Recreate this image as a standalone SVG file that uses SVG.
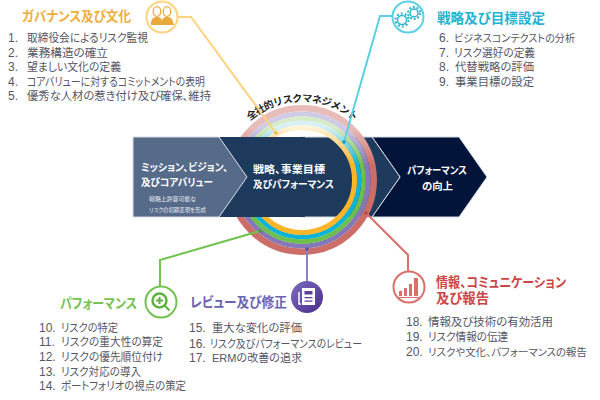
<svg xmlns="http://www.w3.org/2000/svg" width="600" height="400" viewBox="0 0 600 400">
<style>
text{font-family:"Liberation Sans","Noto Sans CJK JP",sans-serif;font-feature-settings:"palt"}
.i{font-size:11.5px;fill:#565666}
.n{font-size:12px;fill:#565666}
.t{font-size:13.5px;font-weight:700}
.w{font-size:10.5px;fill:#fff;font-weight:700}
.s{font-size:6px;fill:#e4e8f0}
.ln{fill:none;stroke-width:2;stroke-linejoin:miter}
.ring{fill:none}
.ic{fill:#fff;stroke-width:2}
</style>
<defs>
<linearGradient id="gr" gradientUnits="userSpaceOnUse" x1="0" y1="105" x2="0" y2="180"><stop offset=".3" stop-color="#e8bdb9"/><stop offset=".8" stop-color="#cd6d68"/></linearGradient>
<linearGradient id="gp" gradientUnits="userSpaceOnUse" x1="0" y1="105" x2="0" y2="180"><stop offset=".3" stop-color="#cfcbe6"/><stop offset=".8" stop-color="#8578b8"/></linearGradient>
<linearGradient id="gg" gradientUnits="userSpaceOnUse" x1="0" y1="105" x2="0" y2="180"><stop offset=".3" stop-color="#d6ebc8"/><stop offset=".8" stop-color="#6cc04a"/></linearGradient>
<linearGradient id="gc" gradientUnits="userSpaceOnUse" x1="0" y1="105" x2="0" y2="180"><stop offset=".3" stop-color="#d8f0f5"/><stop offset=".8" stop-color="#0bb3d6"/></linearGradient>
<linearGradient id="gy" gradientUnits="userSpaceOnUse" x1="0" y1="105" x2="0" y2="180"><stop offset=".3" stop-color="#fff3d8"/><stop offset=".8" stop-color="#fdb52a"/></linearGradient>
<linearGradient id="gd" x1="0" y1="0" x2="1" y2="1"><stop offset="0" stop-color="#7b6cc0"/><stop offset="1" stop-color="#4a2c8c"/></linearGradient>
<path id="arc" d="M243 127.700A80 80 0 0 1 361 127.700"/>
</defs>

<g id="band-third">
<polygon points="372,137 459,137 487,177 459,217 372,217 400,177" fill="#03143a" stroke="#d5dbe3" stroke-width="1"/>
</g>
<g id="band-second-right">
<polygon points="300,137 372,137 400,177 372,217 300,217" fill="#1e3a5c" stroke="#d5dbe3" stroke-width="1"/>
</g>
<g id="rings">
<circle class="ring" cx="302" cy="180" r="71.700" stroke="url(#gr)" stroke-width="6.500"/>
<circle class="ring" cx="302" cy="180" r="66" stroke="url(#gp)" stroke-width="5"/>
<circle class="ring" cx="302" cy="180" r="61.500" stroke="url(#gg)" stroke-width="4.500"/>
<circle class="ring" cx="302" cy="180" r="57" stroke="url(#gc)" stroke-width="4.500"/>
<circle class="ring" cx="302" cy="180" r="52.500" stroke="url(#gy)" stroke-width="5"/>
</g>
<g id="band-second">
<polygon points="219,137 305,137 305,217 219,217 247,177" fill="#1e3a5c"/>
<text class="w" x="253" y="173" textLength="72" lengthAdjust="spacingAndGlyphs">戦略、事業目標</text>
<text class="w" x="253" y="188" textLength="81" lengthAdjust="spacingAndGlyphs">及びパフォーマンス</text>
</g>
<g id="band-first">
<polygon points="133,137 219,137 247,177 219,217 133,217" fill="#566a8a" stroke="#d5dbe3" stroke-width="1"/>
<text class="w" x="141" y="171" textLength="87" lengthAdjust="spacingAndGlyphs">ミッション、ビジョン、</text>
<text class="w" x="141" y="186" textLength="72" lengthAdjust="spacingAndGlyphs">及びコアバリュー</text>
<text class="s" x="149" y="201" textLength="47" lengthAdjust="spacingAndGlyphs">戦略上許容可能な</text>
<text class="s" x="149" y="212" textLength="57" lengthAdjust="spacingAndGlyphs">リスクの初期表現を形成</text>
</g>
<g id="band-third-label">
<text class="w" x="407" y="174" textLength="60" lengthAdjust="spacingAndGlyphs">パフォーマンス</text>
<text class="w" x="422" y="190" textLength="31" lengthAdjust="spacingAndGlyphs">の向上</text>
</g>
<g id="arc-label">
<text font-size="10" font-weight="700" fill="#222" style="font-feature-settings:normal;letter-spacing:-.6px"><textPath href="#arc" startOffset="50%" text-anchor="middle">全社的リスクマネジメント</textPath></text>
</g>

<g id="connectors">
<polyline class="ln" stroke="#ffd27f" points="178,17 191,17 276,133"/><circle cx="276" cy="133" r="1.800" fill="#f5b942"/>
<polyline class="ln" stroke="#5bcfe4" points="392,16 380,16 344,142"/><circle cx="344" cy="142" r="1.800" fill="#1a9ab8"/>
<polyline class="ln" stroke="#72c24f" points="260,231 160,260 160,286"/><circle cx="260" cy="231" r="1.800" fill="#4c9a3a"/>
<polyline class="ln" stroke="#8a80c0" points="307,249 307,282"/><circle cx="307" cy="249" r="1.800" fill="#5d4fa0"/>
<polyline class="ln" stroke="#d9706a" points="366,213 408,255 408,271"/><circle cx="366" cy="213" r="1.800" fill="#b84c48"/>
</g>

<g id="governance">
<circle class="ic" cx="162" cy="17" r="15.500" stroke="#ffd27f"/>
<g fill="none" stroke="#e8a93a" stroke-width="1.300"><ellipse cx="157" cy="11.500" rx="3.800" ry="4.800"/><ellipse cx="167" cy="11.500" rx="3.800" ry="4.800"/></g>
<path d="M151 22c1-4 3-5 6-5s5 1 5 5v3h-11zM162 22c0-4 2-5 5-5s5 1 6 5l1 3h-12z" fill="#e8a93a"/>
<text class="t" x="22" y="21" fill="#f0ae3c" textLength="109" lengthAdjust="spacingAndGlyphs">ガバナンス及び文化</text>
<text class="n" x="8" y="42">1.</text><text class="i" x="27" y="42" textLength="121" lengthAdjust="spacingAndGlyphs">取締役会によるリスク監視</text>
<text class="n" x="8" y="56.500">2.</text><text class="i" x="27" y="56.500" textLength="81" lengthAdjust="spacingAndGlyphs">業務構造の確立</text>
<text class="n" x="8" y="71">3.</text><text class="i" x="27" y="71" textLength="94" lengthAdjust="spacingAndGlyphs">望ましい文化の定義</text>
<text class="n" x="8" y="85.500">4.</text><text class="i" x="27" y="85.500" textLength="178" lengthAdjust="spacingAndGlyphs">コアバリューに対するコミットメントの表明</text>
<text class="n" x="8" y="100">5.</text><text class="i" x="27" y="100" textLength="184" lengthAdjust="spacingAndGlyphs">優秀な人材の惹き付け及び確保、維持</text>
</g>

<g id="strategy">
<circle class="ic" cx="408" cy="17" r="15.500" stroke="#5bcfe4"/>
<g fill="none" stroke="#2bb5d0"><circle cx="402" cy="20" r="4.500" stroke-width="1.500"/><circle cx="402" cy="20" r="6.500" stroke-width="2" stroke-dasharray="2 2.080"/><circle cx="414" cy="13" r="4" stroke-width="1.500"/><circle cx="414" cy="13" r="6" stroke-width="2" stroke-dasharray="2 1.770"/></g>
<text class="t" x="437" y="23" fill="#22b2d2" textLength="108" lengthAdjust="spacingAndGlyphs">戦略及び目標設定</text>
<text class="n" x="439" y="42">6.</text><text class="i" x="454" y="42" style="font-size:10.500px" textLength="121" lengthAdjust="spacingAndGlyphs">ビジネスコンテクストの分析</text>
<text class="n" x="439" y="57">7.</text><text class="i" x="454" y="57" textLength="81" lengthAdjust="spacingAndGlyphs">リスク選好の定義</text>
<text class="n" x="439" y="71">8.</text><text class="i" x="455" y="71" textLength="79" lengthAdjust="spacingAndGlyphs">代替戦略の評価</text>
<text class="n" x="439" y="86">9.</text><text class="i" x="455" y="86" textLength="79" lengthAdjust="spacingAndGlyphs">事業目標の設定</text>
</g>

<g id="performance">
<circle class="ic" cx="161" cy="302" r="15.500" stroke="#72c24f"/>
<circle cx="159.500" cy="300.500" r="7" fill="none" stroke="#5db33d" stroke-width="2.500"/>
<path d="M164.500 305.500l5 5M159.500 297v7M156 300.500h7" stroke="#5db33d" stroke-width="2" fill="none"/>
<text class="t" x="60" y="308" fill="#74c24f" textLength="77" lengthAdjust="spacingAndGlyphs">パフォーマンス</text>
<text class="n" x="39" y="332">10.</text><text class="i" x="61" y="332" textLength="57" lengthAdjust="spacingAndGlyphs">リスクの特定</text>
<text class="n" x="39" y="346">11.</text><text class="i" x="61" y="346" textLength="102" lengthAdjust="spacingAndGlyphs">リスクの重大性の算定</text>
<text class="n" x="39" y="361">12.</text><text class="i" x="61" y="361" textLength="102" lengthAdjust="spacingAndGlyphs">リスクの優先順位付け</text>
<text class="n" x="39" y="376">13.</text><text class="i" x="61" y="376" textLength="80" lengthAdjust="spacingAndGlyphs">リスク対応の導入</text>
<text class="n" x="39" y="390">14.</text><text class="i" x="61" y="390" textLength="125" lengthAdjust="spacingAndGlyphs">ポートフォリオの視点の策定</text>
</g>

<g id="review">
<circle cx="307" cy="297" r="16" fill="url(#gd)"/>
<path d="M302 288h13v17h-13z" fill="#fff"/><path d="M304.500 291h8v3.500h-8zM304.500 297h8v1.200h-8zM304.500 300.500h8v1.200h-8z" fill="#5b3d9a"/><path d="M299 292v12h2" fill="none" stroke="#fff" stroke-width="1.500"/>
<text class="t" x="190" y="307" fill="#6a62b0" textLength="97" lengthAdjust="spacingAndGlyphs">レビュー及び修正</text>
<text class="n" x="189" y="332">15.</text><text class="i" x="212" y="332" textLength="90" lengthAdjust="spacingAndGlyphs">重大な変化の評価</text>
<text class="n" x="189" y="348">16.</text><text class="i" x="210" y="348" textLength="152" lengthAdjust="spacingAndGlyphs">リスク及びパフォーマンスのレビュー</text>
<text class="n" x="189" y="362">17.</text><text class="i" x="212" y="362" textLength="90" lengthAdjust="spacingAndGlyphs">ERMの改善の追求</text>
</g>

<g id="information">
<circle class="ic" cx="409" cy="287" r="15.500" stroke="#d9706a"/>
<path d="M399 291h3v5h-3zM404 288h3v8h-3zM409 284h3v12h-3zM414 278h4v18h-4z" fill="#d9706a"/><path d="M398 297.500h21" stroke="#d9706a" stroke-width="1"/>
<text class="t" x="436" y="287" fill="#cc4646" textLength="130" lengthAdjust="spacingAndGlyphs">情報、コミュニケーション</text>
<text class="t" x="436" y="303" fill="#cc4646" textLength="53" lengthAdjust="spacingAndGlyphs">及び報告</text>
<text class="n" x="406" y="326">18.</text><text class="i" x="428" y="326" textLength="125" lengthAdjust="spacingAndGlyphs">情報及び技術の有効活用</text>
<text class="n" x="406" y="341">19.</text><text class="i" x="428" y="341" textLength="80" lengthAdjust="spacingAndGlyphs">リスク情報の伝達</text>
<text class="n" x="406" y="356">20.</text><text class="i" x="428" y="356" style="font-size:10px" textLength="159" lengthAdjust="spacingAndGlyphs">リスクや文化、パフォーマンスの報告</text>
</g>
</svg>
